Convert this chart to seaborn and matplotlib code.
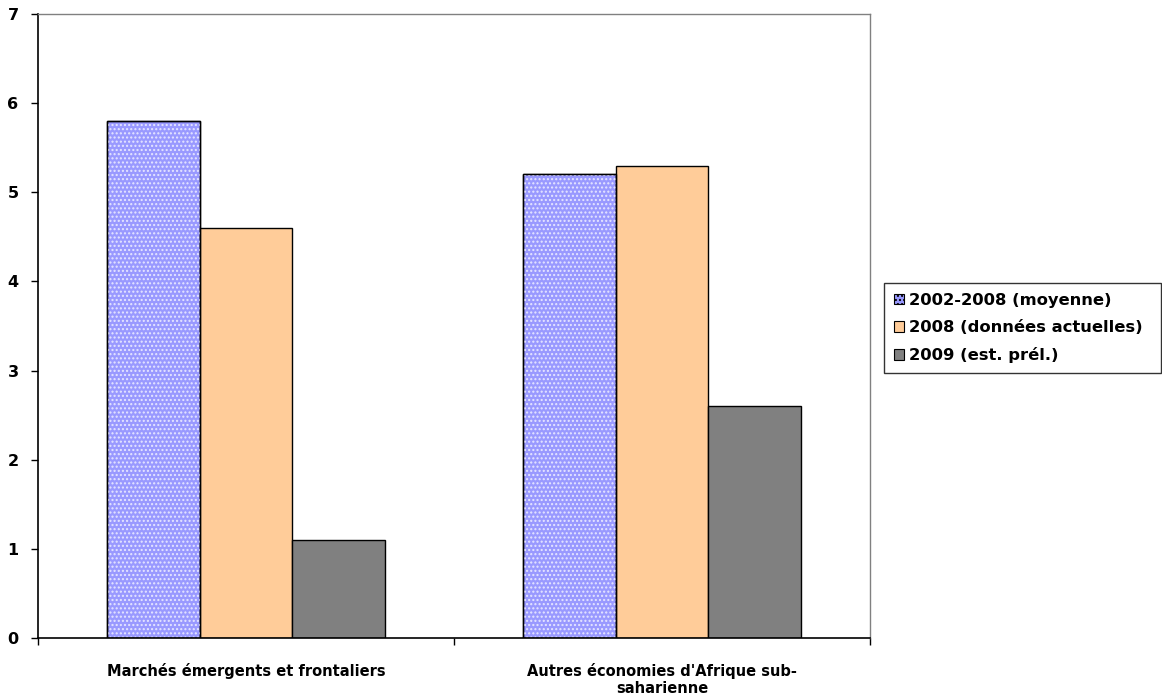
import matplotlib
matplotlib.use("Agg")
import matplotlib.pyplot as plt
import seaborn as sns
import pandas as pd
from matplotlib.patches import Rectangle, Patch

categories = ["Marchés émergents et frontaliers", "Autres économies d'Afrique sub-\nsaharienne"]
series = ["2002-2008 (moyenne)", "2008 (données actuelles)", "2009 (est. prél.)"]
values_2002_2008 = [5.8, 5.2]
values_2008 = [4.6, 5.3]
values_2009 = [1.1, 2.6]
y_ticks = [0, 1, 2, 3, 4, 5, 6, 7]

colors = ["#9999FF", "#FFCC99", "#808080"]

rows = []
for s, vals in zip(series, [values_2002_2008, values_2008, values_2009]):
    for c, v in zip(categories, vals):
        rows.append({"cat": c, "serie": s, "val": v})
df = pd.DataFrame(rows)

sns.set_style("white")
plt.rcParams["font.family"] = ["DejaVu Sans"]
plt.rcParams["text.color"] = "black"
plt.rcParams["xtick.color"] = "black"
plt.rcParams["ytick.color"] = "black"
plt.rcParams["xtick.labelcolor"] = "black"
plt.rcParams["ytick.labelcolor"] = "black"
plt.rcParams["hatch.linewidth"] = 1.0

fig = plt.figure(figsize=(11.62, 7.0), dpi=100)
ax = fig.add_axes([0.0327, 0.0886, 0.716, 0.8914])

sns.barplot(data=df, x="cat", y="val", hue="serie", palette=colors,
            width=0.67, gap=0, saturation=1, ax=ax, legend=False,
            edgecolor="black", linewidth=1.0)

# dotted texture on the first series
n = len(categories)
for p in ax.patches[:n]:
    ax.add_patch(Rectangle(p.get_xy(), p.get_width(), p.get_height(),
                           facecolor="none", edgecolor="#E6E6FF", hatch="....",
                           linewidth=0, zorder=p.get_zorder() + 0.1))
    ax.add_patch(Rectangle(p.get_xy(), p.get_width(), p.get_height(),
                           facecolor="none", edgecolor="black",
                           linewidth=1.0, zorder=p.get_zorder() + 0.2))

ax.set_xlim(-0.5, n - 0.5)
ax.set_ylim(0, 7)
ax.set_yticks(y_ticks)
ax.set_yticklabels([str(t) for t in y_ticks], fontsize=11.5, fontweight="bold",
                   color="black")
ax.set_xticks([-0.5, 0.5, 1.5], minor=False)
ax.set_xticklabels([])
ax.set_xticks([0, 1], minor=True)
ax.set_xticklabels(categories, minor=True, fontsize=10.5, fontweight="bold",
                   linespacing=1.2, color="black")
ax.tick_params(axis="x", which="minor", length=0, pad=18)
ax.tick_params(axis="x", which="major", length=5, width=1, color="black",
               direction="out", bottom=True)
ax.tick_params(axis="y", length=5, width=1, color="black", direction="out",
               left=True, pad=9)
ax.set_xlabel("")
ax.set_ylabel("")

for side in ["left", "bottom"]:
    ax.spines[side].set_color("black")
    ax.spines[side].set_linewidth(1.2)
for side in ["top", "right"]:
    ax.spines[side].set_color("#808080")
    ax.spines[side].set_linewidth(1.0)

handles = [Patch(facecolor=c, edgecolor="black", linewidth=0.8) for c in colors]
handles[0].set_hatch("....")
leg = fig.legend(handles, series, loc="upper left",
                 bbox_to_anchor=(884 / 1162, 1 - 283 / 700,
                                 (1161 - 884) / 1162, 0.0),
                 mode="expand",
                 frameon=True, fancybox=False, edgecolor="black",
                 prop={"weight": "bold", "size": 11.8},
                 handlelength=0.6, handleheight=0.6, handletextpad=0.3,
                 borderpad=0.6, labelspacing=0.75, borderaxespad=0)
leg.get_frame().set_linewidth(1.0)
for t in leg.get_texts():
    t.set_color("black")

fig.savefig("out.png", dpi=100)
